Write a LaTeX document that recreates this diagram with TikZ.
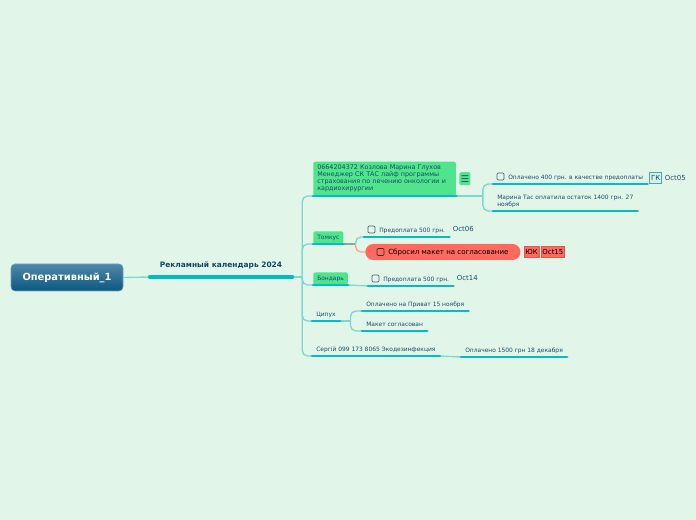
\documentclass[tikz,border=0pt]{standalone}
\usepackage{fontspec}
\setmainfont{DejaVu Sans}
\usetikzlibrary{positioning}

\definecolor{bgc}{RGB}{225,246,233}
\definecolor{ulc}{RGB}{0,190,195}
\definecolor{linkc}{RGB}{125,215,205}
\definecolor{grnc}{RGB}{80,228,140}
\definecolor{txtc}{RGB}{25,75,105}
\definecolor{titlec}{RGB}{20,70,100}
\definecolor{rootA}{RGB}{80,135,168}
\definecolor{rootB}{RGB}{12,88,128}
\definecolor{rootE}{RGB}{110,160,190}
\definecolor{redc}{RGB}{255,105,95}
\definecolor{redd}{RGB}{225,85,80}
\definecolor{pinkc}{RGB}{240,165,155}
\definecolor{grayc}{RGB}{150,160,160}
\definecolor{gkc}{RGB}{70,170,170}
\definecolor{gkfill}{RGB}{215,242,232}
\definecolor{cboxc}{RGB}{80,95,110}

\tikzset{
  conn/.style={draw=linkc, line width=1pt, rounded corners=4pt},
  uline/.style={draw=ulc, line width=2.2pt, line cap=round},
  txt/.style={font=\fontsize{4.45}{5.25}\selectfont, text=txtc},
  lvl/.style={txt, anchor=south west, inner xsep=3pt, inner ysep=2.4pt},
  leaf/.style={lvl, text height=3.5pt, text depth=1pt},
  greenbox/.style={leaf, fill=grnc, rounded corners=1.5pt},
  cbox/.style={draw=#1, line width=0.5pt, rounded corners=0.8pt, minimum size=5.2pt, inner sep=0pt},
  cbox/.default=cboxc,
  datec/.style={font=\fontsize{5.2}{6}\selectfont, text=txtc, inner sep=0.5pt},
  tag/.style={font=\fontsize{5.2}{6}\selectfont, inner sep=0.8pt, minimum height=8pt, minimum width=9pt},
  root/.style={rounded corners=3pt, top color=rootA, bottom color=rootB, draw=rootE, line width=0.4pt,
    minimum width=84pt, minimum height=20.25pt, text=white, font=\bfseries\fontsize{7.4}{9}\selectfont},
  mainc/.style={anchor=south, minimum width=106.5pt, inner ysep=6.9pt, text height=4.2pt, text depth=0pt,
    text=titlec, font=\bfseries\fontsize{5.6}{7}\selectfont},
  pill/.style={anchor=west, fill=redc, rounded corners=6pt, minimum height=12pt, inner xsep=9pt,
    text=black, font=\fontsize{5.3}{6}\selectfont}
}

\begin{document}
\begin{tikzpicture}[x=0.75pt, y=-0.75pt]
  \fill[bgc] (0,0) rectangle (696,520);
  \useasboundingbox (0,0) rectangle (696,520);

  % центральная тема
  \node[root] (root) at (67,277.5) {Оперативный\_1};
  \node[mainc] (main) at (221,277) {Рекламный календарь 2024};
  \coordinate (h1) at ([xshift=7.5pt]main.south east);
  \draw[conn] (root.east) -- (main.south west);
  \draw[conn] (main.south east) -- (h1);

  % ветки
  \node[lvl, fill=grnc, rounded corners=1.5pt, align=left, text width=101pt, inner ysep=2.6pt,
    font=\fontsize{4.8}{5.25}\selectfont] (g1) at (313,196)
    {0664204372 Козлова Марина Глухов\\Менеджер СК ТАС лайф программы\\страхования по лечению онкологии и\\кардиохирургии};
  \node[fill=grnc, rounded corners=1pt, minimum width=8.25pt, minimum height=9.75pt, inner sep=0pt,
    text=txtc, font=\fontsize{7}{7}\selectfont, right=2.25pt of g1] (menu) {☰};
  \node[greenbox] (g2) at (313,244) {Томкус};
  \node[greenbox] (g3) at (313,285) {Бондарь};
  \node[leaf] (g4) at (312,321) {Ципух};
  \node[leaf] (g5) at (312,356) {Сергій 099 173 8065 Экодезинфекция};
  \foreach \n in {g1,g2,g3,g4,g5}
    \draw[conn] (h1) |- (\n.south west);

  % Козлова
  \coordinate (h2) at ([xshift=20pt]g1.south east);
  \draw[conn] (g1.south east) -- (h2);
  \node[leaf] (c11) at (493,184) {\hspace*{8.25pt}Оплачено 400 грн. в качестве предоплаты};
  \node[cbox] (k11) at ([xshift=5.6pt,yshift=0.8pt]c11.west) {};
  \node[tag, draw=gkc, fill=gkfill, text=txtc, right=1.5pt of c11] (gk) {ГК};
  \node[datec, right=1.5pt of gk] (d11) {Oct05};
  \node[lvl, align=left] (c12) at (493,211) {Марина Тас оплатила остаток 1400 грн. 27\\ноября};
  \draw[conn] (h2) |- (c11.south west);
  \draw[conn] (h2) |- (c12.south west);

  % Томкус
  \coordinate (h3) at ([xshift=9pt]g2.south east);
  \draw[conn, draw=grayc] (g2.south east) -- (h3);
  \node[leaf] (c21) at (364,237) {\hspace*{8.25pt}Предоплата 500 грн.};
  \node[cbox] (k21) at ([xshift=5.6pt,yshift=0.8pt]c21.west) {};
  \node[datec, right=2pt of c21, yshift=1pt] (d21) {Oct06};
  \draw[conn] (h3) |- (c21.south west);
  \draw[conn, draw=pinkc] (h3) |- (365,252) coordinate (p22);
  \node[pill] (c22) at (p22) {\hspace*{8.25pt}Сбросил макет на согласование};
  \node[cbox=black!80] (k22) at ([xshift=11.6pt]c22.west) {};
  \node[tag, fill=redc, draw=redd, right=2.5pt of c22] (yk) {ЮК};
  \node[tag, fill=redc, draw=redd, right=1.5pt of yk] (d22) {Oct15};

  % Бондарь
  \node[leaf] (c31) at (368,286) {\hspace*{8.25pt}Предоплата 500 грн.};
  \node[cbox] (k31) at ([xshift=5.6pt,yshift=0.8pt]c31.west) {};
  \node[datec, right=2pt of c31, yshift=1.5pt] (d31) {Oct14};
  \draw[conn] (g3.south east) -- (c31.south west);

  % Ципух
  \coordinate (h4) at ([xshift=8pt]g4.south east);
  \draw[conn] (g4.south east) -- (h4);
  \node[leaf] (c41) at (362,311) {Оплачено на Приват 15 ноября};
  \node[leaf] (c42) at (362,331) {Макет согласован};
  \draw[conn] (h4) |- (c41.south west);
  \draw[conn] (h4) |- (c42.south west);

  % Сергій
  \node[leaf] (c51) at (461,357) {Оплачено 1500 грн 18 декабря};
  \draw[conn] (g5.south east) -- (c51.south west);

  \draw[uline, line width=3pt] (main.south west) -- (main.south east);
  \foreach \n in {g1,g2,g3,g4,g5,c11,c12,c21,c31,c41,c42,c51}
    \draw[uline] (\n.south west) -- (\n.south east);
\end{tikzpicture}
\end{document}
